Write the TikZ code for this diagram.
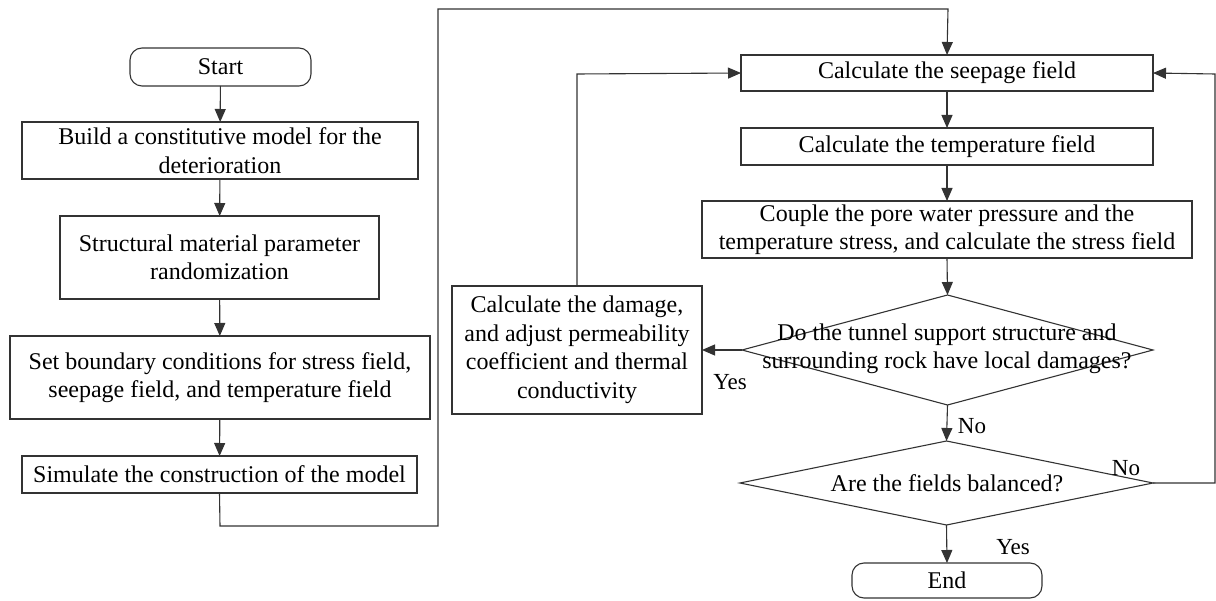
\documentclass[tikz,border=0pt]{standalone}
\usepackage{fontspec}
\setmainfont{Liberation Serif}
\newfontfamily\tnr{Liberation Serif}
\usetikzlibrary{arrows.meta,shapes.geometric}
\begin{document}
\begin{tikzpicture}[x=1pt,y=-1pt,
  every node/.style={inner sep=0pt, outer sep=0pt, font=\tnr\fontsize{24}{28.5}\selectfont},
  box/.style={draw=black!80, line width=1.1pt, align=center},
  term/.style={box, rounded corners=12pt},
  dia/.style={draw=black!80, line width=1.1pt, diamond},
  lbl/.style={font=\tnr\fontsize{23}{27}\selectfont},
  conn/.style={draw=black!80, line width=1.1pt},
  arr/.style={conn, -{Triangle[length=13pt,width=11pt]}}
]
\useasboundingbox (0,0) rectangle (1216,601);
% left column
\node[term, minimum width=181pt, minimum height=38pt] (start) at (220.5,67) {Start};
\node[box, minimum width=396pt, minimum height=57pt] (b1) at (220,150.5) {Build a constitutive model for the\\deterioration};
\node[box, minimum width=319pt, minimum height=83pt] (b2) at (219.5,257.5) {Structural material parameter\\randomization};
\node[box, minimum width=420pt, minimum height=83pt] (b3) at (220,377.5) {Set boundary conditions for stress field,\\seepage field, and temperature field};
\node[box, minimum width=395pt, minimum height=37pt] (b4) at (219.5,474.5) {Simulate the construction of the model};
% right column
\node[box, minimum width=412pt, minimum height=36pt] (seep) at (947,73) {Calculate the seepage field};
\node[box, minimum width=412pt, minimum height=37pt] (temp) at (947,146.5) {Calculate the temperature field};
\node[box, minimum width=490pt, minimum height=57pt] (coup) at (947,229.5) {Couple the pore water pressure and the\\temperature stress, and calculate the stress field};
\node[dia, minimum width=411pt, minimum height=110pt] (d1) at (947.5,350) {};
\node[align=center] (d1t) at (947,349) {Do the tunnel support structure and\\surrounding rock have local damages?};
\node[dia, minimum width=413pt, minimum height=84pt] (d2) at (946.5,483) {};
\node (d2t) at (947,483) {Are the fields balanced?};
\node[term, minimum width=190pt, minimum height=35pt] (end) at (947,580.5) {End};
\node[box, minimum width=250pt, minimum height=128pt] (dmg) at (577,350) {Calculate the damage,\\and adjust permeability\\coefficient and thermal\\conductivity};
% helper coordinates
\coordinate (c1) at (220,526);
\coordinate (c2) at (438,526);
\coordinate (c3) at (438,9);
\coordinate (c4) at (948,9);
\coordinate (c5) at (577,74);
\coordinate (c6) at (1215,483);
\coordinate (c7) at (1215,74);
% connectors
\draw[arr] (start) -- (b1);
\draw[arr] (b1) -- (b2);
\draw[arr] (b2) -- (b3);
\draw[arr] (b3) -- (b4);
\draw[arr] (b4.south) -- (c1) -- (c2) -- (c3) -- (c4) -- (seep.north);
\draw[arr] (seep) -- (temp);
\draw[arr] (temp) -- (coup);
\draw[arr] (coup.south) -- (d1.north);
\draw[arr] (d1.south) -- (d2.north);
\draw[arr] (d2.south) -- (end.north);
\draw[arr] (d1.west) -- (dmg.east);
\draw[arr] (dmg.north) -- (c5) -- (seep.west);
\draw[arr] (d2.east) -- (c6) -- (c7) -- (seep.east);
% labels
\node[lbl] (ly1) at (730,382) {Yes};
\node[lbl] (ln1) at (972,426) {No};
\node[lbl] (ln2) at (1126,468) {No};
\node[lbl] (ly2) at (1013,547) {Yes};
\end{tikzpicture}
\end{document}
